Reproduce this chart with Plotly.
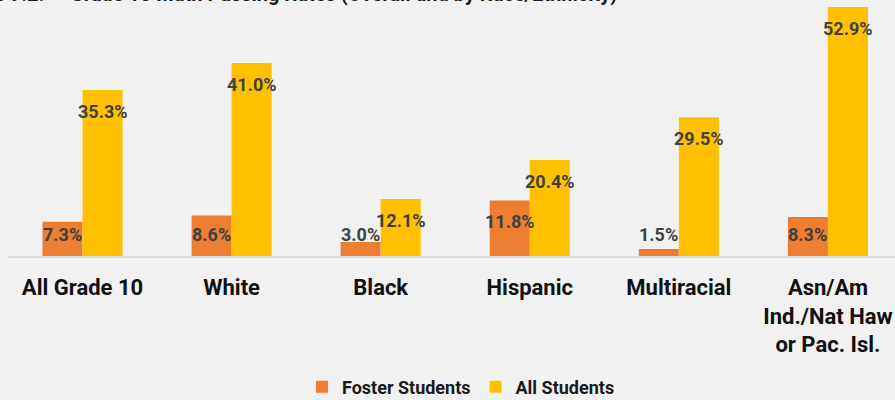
import plotly.graph_objects as go

categories = ["All Grade 10", "White", "Black", "Hispanic", "Multiracial",
              "Asn/Am<br>Ind./Nat Haw<br>or Pac. Isl."]
foster = [7.3, 8.6, 3.0, 11.8, 1.5, 8.3]
all_students = [35.3, 41.0, 12.1, 20.4, 29.5, 52.9]
series_names = ["Foster Students", "All Students"]
title_prefix = "Figure 9.2."
title_text = "Grade 10 Math Passing Rates (Overall and by Race/Ethnicity)"

ORANGE = "#ED7D31"
YELLOW = "#FFC000"
BG = "#F0F1F0"
LABEL = "#404040"
FONT = "Roboto"

W, H = 895, 400
ml, mr, mt, mb = 8, 0, 0, 144
pw, ph = W - ml - mr, H - mt - mb


def px_to_paper(px, py):
    return (px - ml) / pw, (H - mb - py) / ph


fig = go.Figure()
fig.add_trace(go.Bar(x=categories, y=foster, name=series_names[0],
                     marker=dict(color=ORANGE, line=dict(width=0))))
fig.add_trace(go.Bar(x=categories, y=all_students, name=series_names[1],
                     marker=dict(color=YELLOW, line=dict(width=0))))

annots = []
for cat, f, a in zip(categories, foster, all_students):
    for val, shift in ((f, -20), (a, 20)):
        annots.append(dict(x=cat, y=max(val - 4.5, 4.5), xref="x", yref="y",
                           xshift=shift, text=f"{val:.1f}%", showarrow=False,
                           font=dict(family=FONT, size=18, color=LABEL, weight="bold"),
                           xanchor="center", yanchor="middle"))

x1, y1 = px_to_paper(46, 8)
x2, y2 = px_to_paper(68, 8)
annots.append(dict(x=x1, y=y1, xref="paper", yref="paper", text=title_prefix,
                   showarrow=False, xanchor="right", yanchor="bottom",
                   font=dict(family=FONT, size=20, color="#1a1a1a", weight="bold")))
annots.append(dict(x=x2, y=y2, xref="paper", yref="paper", text=title_text,
                   showarrow=False, xanchor="left", yanchor="bottom",
                   font=dict(family=FONT, size=20, color="#1a1a1a", weight="bold")))

lx, ly = px_to_paper(461, 387)

fig.update_layout(
    annotations=annots,
    width=W, height=H,
    margin=dict(l=ml, r=mr, t=mt, b=mb, autoexpand=False),
    paper_bgcolor=BG, plot_bgcolor=BG,
    barmode="group", bargap=0.463, bargroupgap=0,
    showlegend=True,
    legend=dict(orientation="h", x=lx, y=ly,
                xanchor="center", yanchor="middle",
                font=dict(family=FONT, size=18, color="#1a1a1a", weight="bold"),
                bgcolor="rgba(0,0,0,0)", itemclick=False, itemwidth=30),
    xaxis=dict(range=[-0.5, 5.45], showline=True, linecolor="#D9D9D9", linewidth=1.5,
               showgrid=False, zeroline=False, ticks="outside", ticklen=11,
               tickcolor="rgba(0,0,0,0)", automargin=False,
               tickfont=dict(family=FONT, size=22, color="#111111", weight="bold")),
    yaxis=dict(range=[0, 54.4], visible=False, showgrid=False, zeroline=False),
)

fig.write_html("out.html", config={"displayModeBar": False},
               post_script="document.body.style.margin='0';document.body.style.overflow='hidden';")
